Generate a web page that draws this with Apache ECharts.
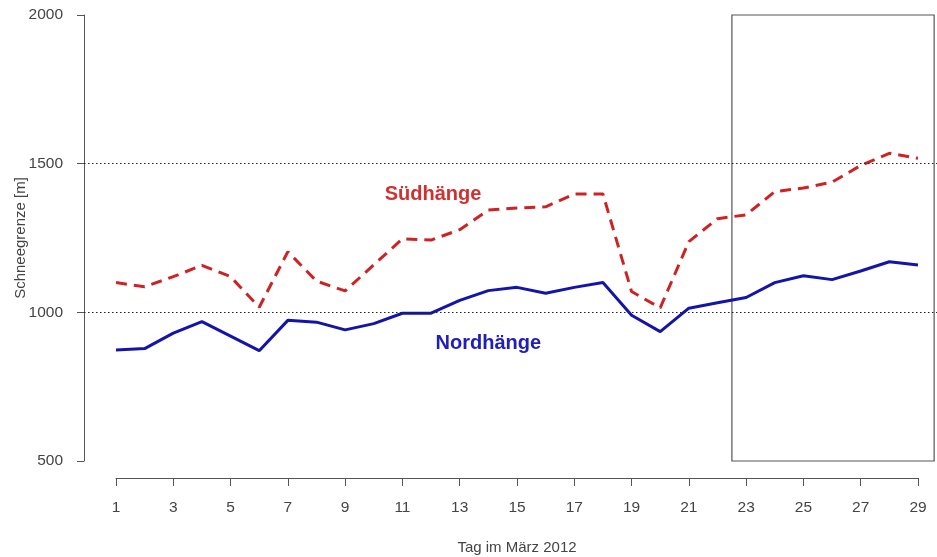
<!DOCTYPE html>
<html>
<head>
<meta charset="utf-8">
<script src="https://cdn.jsdelivr.net/npm/echarts@6/dist/echarts.min.js"></script>
<style>html,body{margin:0;padding:0;background:#fff}#c{width:937px;height:557px}</style>
</head>
<body>
<div id="c"></div>
<script>
var days = [1,2,3,4,5,6,7,8,9,10,11,12,13,14,15,16,17,18,19,20,21,22,23,24,25,26,27,28,29];
var suedhaenge = [1100,1086,1120,1158,1120,1017,1204,1105,1072,1160,1247,1243,1278,1344,1351,1355,1398,1398,1070,1015,1238,1315,1328,1406,1418,1438,1494,1535,1518];
var nordhaenge = [873,878,930,969,920,871,973,967,941,962,997,997,1040,1073,1084,1064,1084,1100,990,935,1014,1032,1050,1100,1123,1110,1139,1170,1159];
var yTicks = [500, 1000, 1500, 2000];
var refLines = [1000, 1500];
var boxRange = {x0: 22.5, x1: 29.56, y0: 500, y1: 2000};
var plotRangeX = [-0.12, 29.66];
var seriesNames = ['Südhänge', 'Nordhänge'];
var labelPos = {sued: [12.07, 1395], nord: [14, 894]};

function pairs(vals){ return days.map(function(d,i){ return [d, vals[i]]; }); }

var font = '"Liberation Sans", Arial, sans-serif';
var chart = echarts.init(document.getElementById('c'), null, {renderer:'canvas'});
chart.setOption({
  animation: false,
  backgroundColor: '#fff',
  grid: [
    {left: 116, right: 19, top: 15, bottom: 96, containLabel: false, outerBoundsMode: 'none'},
    {left: 84, right: 0, top: 15, bottom: 96, containLabel: false, outerBoundsMode: 'none'}
  ],
  xAxis: [{
    type: 'value', gridIndex: 0, min: 1, max: 29, interval: 2, offset: 17,
    name: 'Tag im März 2012', nameLocation: 'middle', nameGap: 62, nameMoveOverlap: false,
    nameTextStyle: {fontFamily: font, fontSize: 15, color: '#444'},
    axisLine: {show: true, lineStyle: {color: '#555', width: 1}},
    axisTick: {show: true, length: 8, lineStyle: {color: '#555'}},
    axisLabel: {fontFamily: font, fontSize: 15.5, color: '#444', margin: 22},
    splitLine: {show: false}
  }, {
    type: 'value', gridIndex: 1, min: plotRangeX[0], max: plotRangeX[1], show: false
  }],
  yAxis: [{
    type: 'value', gridIndex: 0, min: yTicks[0], max: yTicks[yTicks.length-1], interval: 500, offset: 32,
    name: 'Schneegrenze [m]', nameLocation: 'middle', nameGap: 56, nameMoveOverlap: false,
    nameTextStyle: {fontFamily: font, fontSize: 15, color: '#444'},
    axisLine: {show: true, lineStyle: {color: '#555', width: 1}},
    axisTick: {show: true, length: 7, lineStyle: {color: '#555'}},
    axisLabel: {fontFamily: font, fontSize: 15.5, color: '#444', margin: 21, formatter: function(v){ return String(v); }},
    splitLine: {show: false}
  }, {
    type: 'value', gridIndex: 1, min: yTicks[0], max: yTicks[yTicks.length-1], show: false
  }],
  series: [
    {
      name: 'helper', type: 'line', xAxisIndex: 1, yAxisIndex: 1, data: [], silent: true,
      markLine: {
        silent: true, symbol: 'none', label: {show: false},
        lineStyle: {color: '#222', type: [1.5, 2.5], width: 1},
        data: refLines.map(function(v){ return [{coord: [plotRangeX[0], v]}, {coord: [plotRangeX[1], v]}]; })
      },
      markArea: {
        silent: true,
        itemStyle: {color: 'rgba(0,0,0,0)', borderColor: '#555', borderWidth: 1.2},
        data: [[{coord: [boxRange.x0, boxRange.y0]}, {coord: [boxRange.x1, boxRange.y1]}]]
      },
      z: 1
    },
    {
      name: seriesNames[0], type: 'line', data: pairs(suedhaenge), showSymbol: false, clip: false,
      lineStyle: {color: '#cc2424', width: 3, type: [11, 7]},
      markPoint: {
        symbol: 'circle', symbolSize: 1, itemStyle: {color: 'rgba(0,0,0,0)'},
        label: {show: true, position: 'inside', formatter: seriesNames[0], fontFamily: font, fontSize: 20, fontWeight: 'bold', color: '#d03030'},
        data: [{coord: labelPos.sued}]
      },
      z: 3
    },
    {
      name: seriesNames[1], type: 'line', data: pairs(nordhaenge), showSymbol: false, clip: false,
      lineStyle: {color: '#1414aa', width: 3},
      markPoint: {
        symbol: 'circle', symbolSize: 1, itemStyle: {color: 'rgba(0,0,0,0)'},
        label: {show: true, position: 'inside', formatter: seriesNames[1], fontFamily: font, fontSize: 20, fontWeight: 'bold', color: '#2020b8'},
        data: [{coord: labelPos.nord}]
      },
      z: 4
    }
  ]
});
</script>
</body>
</html>
